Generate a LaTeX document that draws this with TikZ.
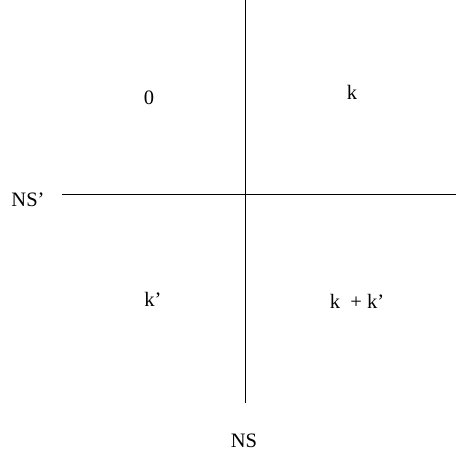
\documentclass[tikz,border=0pt]{standalone}
\usepackage{fontspec}
\setmainfont{Liberation Serif}
\begin{document}
\begin{tikzpicture}[x=1pt,y=1pt,
  lbl/.style={anchor=base,inner sep=0pt,font=\fontsize{20.5}{24}\selectfont},
  axis/.style={line width=1pt,black}]
\useasboundingbox (0,0) rectangle (456,456);
\coordinate (vt) at (245,456);
\coordinate (vb) at (245,53);
\coordinate (hl) at (62,261);
\coordinate (hr) at (456,261);
\draw[axis] (vt) -- (vb);
\draw[axis] (hl) -- (hr);
\node[lbl] (z) at (149,351) {0};
\node[lbl] (k) at (352,356) {k};
\node[lbl] (nsp) at (28,249) {NS’};
\node[lbl] (kp) at (153,149) {k’};
\node[lbl] (kkp) at (357,147) {k\ \ + k’};
\node[lbl] (ns) at (244,9) {NS};
\end{tikzpicture}
\end{document}
